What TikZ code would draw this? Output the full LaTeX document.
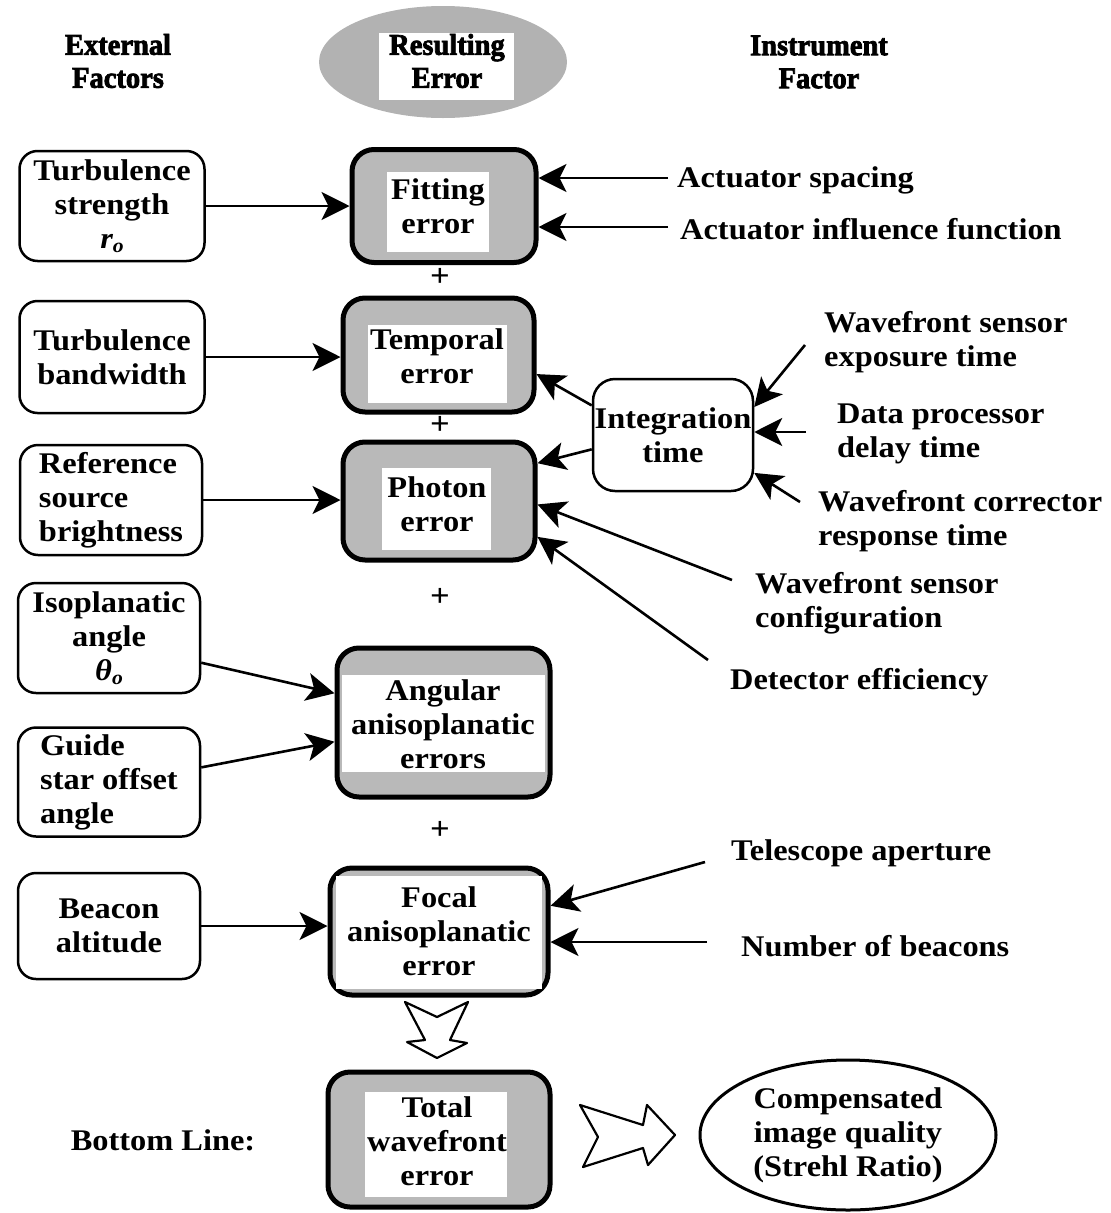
\documentclass[tikz,border=0pt]{standalone}
\usepackage{fontspec}
\setmainfont{Liberation Serif}[FakeStretch=1.08]
\newfontfamily\hdrfont{Liberation Serif}[FakeStretch=0.95,FakeBold=2.5]
\usetikzlibrary{arrows.meta,shapes.geometric}
\begin{document}
\begin{tikzpicture}[x=1pt,y=-1pt,
  every node/.style={font=\fontsize{30}{34}\selectfont\bfseries, inner sep=0pt},
  lbox/.style={draw, line width=2.5pt, rounded corners=18pt, fill=white, align=center},
  ebox/.style={draw, line width=5pt, rounded corners=22pt, fill=gray!55},
  txt/.style={align=center},
  ltxt/.style={align=left, anchor=west},
  hdr/.style={align=center, font=\hdrfont\fontsize{30}{33}\selectfont\bfseries},
  arr/.style={line width=2.6pt, -{Stealth[length=28pt,width=28pt,inset=7pt]}},
  hollow/.style={draw, line width=2.2pt, fill=white, line join=round},
  plus/.style={font=\fontsize{32}{32}\selectfont\bfseries},
]
\useasboundingbox (0,0) rectangle (1111,1213);

% header
\node[hdr] (hExt) at (118,61) {External\\Factors};
\node[ellipse, fill=gray!60, minimum width=248pt, minimum height=112pt] (hdrE) at (443,62) {};
\fill[white] (379,33) rectangle (514,100);
\node[hdr] (hRes) at (447,61) {Resulting\\Error};
\node[hdr] (hIns) at (819,62) {Instrument\\Factor};

% left column
\node[lbox, minimum width=185pt, minimum height=110pt] (b1) at (112,206)
  {Turbulence\\strength\\{\itshape r\raisebox{-4pt}{\fontsize{20}{20}\selectfont o}}};
\node[lbox, minimum width=185pt, minimum height=112pt] (b2) at (112,357) {Turbulence\\bandwidth};
\node[lbox, align=left, minimum width=182pt, minimum height=110pt] (b3) at (111,500) {Reference\\source\\brightness};
\node[lbox, minimum width=182pt, minimum height=110pt] (b4) at (109,638)
  {Isoplanatic\\angle\\{\itshape θ\raisebox{-4pt}{\fontsize{20}{20}\selectfont o}}};
\node[lbox, align=left, minimum width=182pt, minimum height=109pt] (b5) at (109,782) {Guide\\star offset\\angle};
\node[lbox, minimum width=182pt, minimum height=106pt] (b6) at (109,926) {Beacon\\altitude};

% central error boxes
\node[ebox, minimum width=184pt, minimum height=113pt] (fit) at (444,206) {};
\fill[white] (387,172) rectangle (489,252);
\node[txt] (fitT) at (438,206) {Fitting\\error};

\node[ebox, minimum width=191pt, minimum height=114pt] (temp) at (438.5,355) {};
\fill[white] (368,325) rectangle (507,403);
\node[txt] (tempT) at (437,356) {Temporal\\error};

\node[ebox, minimum width=192pt, minimum height=118pt] (phot) at (439,501) {};
\fill[white] (382,468) rectangle (491,550);
\node[txt] (photT) at (437,504) {Photon\\error};

\node[ebox, minimum width=213pt, minimum height=149pt] (ang) at (443.5,722.5) {};
\fill[white] (342,675) rectangle (545,772);
\node[txt] (angT) at (443,724) {Angular\\anisoplanatic\\errors};

\node[ebox, minimum width=218pt, minimum height=127pt] (foc) at (439,931.5) {};
\fill[white] (336,876) rectangle (542,989);
\node[txt] (focT) at (439,931) {Focal\\anisoplanatic\\error};

\node[ebox, minimum width=222pt, minimum height=135pt] (tot) at (439,1139.5) {};
\fill[white] (365,1092) rectangle (507,1197);
\node[txt] (totT) at (437,1141) {Total\\wavefront\\error};

% plus signs
\node[plus] (p1) at (440,277) {+};
\node[plus] (p2) at (440,425) {+};
\node[plus] (p3) at (440,597) {+};
\node[plus] (p4) at (440,830) {+};

% integration time
\node[lbox, rounded corners=22pt, minimum width=160pt, minimum height=112pt] (integ) at (673,435) {Integration\\time};

% right labels
\node[ltxt] (act1) at (677,180) {Actuator spacing};
\node[ltxt] (act2) at (680,229) {Actuator influence function};
\node[ltxt] (wse) at (824,342) {Wavefront sensor\\exposure time};
\node[ltxt] (dpd) at (837,434) {Data processor\\delay time};
\node[ltxt] (wcr) at (818,521) {Wavefront corrector\\response time};
\node[ltxt] (wsc) at (755,603) {Wavefront sensor\\configuration};
\node[ltxt] (det) at (730,682) {Detector efficiency};
\node[ltxt] (tel) at (731,853) {Telescope aperture};
\node[ltxt] (nob) at (741,946) {Number of beacons};

% bottom
\node (bl) at (163,1140) {Bottom Line:};
\node[ellipse, draw, line width=3pt, minimum width=296pt, minimum height=150pt, align=center] (comp) at (848,1135)
  {Compensated\\image quality\\(Strehl Ratio)};

% free ends
\coordinate (a1) at (668,178);
\coordinate (a2) at (668,227);
\coordinate (wseA) at (805,345);
\coordinate (dpdA) at (806,432);
\coordinate (wcrA) at (800,502);
\coordinate (wscA) at (732,580);
\coordinate (detA) at (708,660);
\coordinate (telA) at (705,862);
\coordinate (nobA) at (707,942);

% connectors
\draw[arr] (b1.east) -- (b1.east -| fit.west);
\draw[arr] (b2.east) -- (b2.east -| temp.west);
\draw[arr] (b3.east) -- (b3.east -| phot.west);
\draw[arr] (b4.-15) -- (ang.165);
\draw[arr] (b5.9) -- (ang.190);
\draw[arr] (b6.east) -- (b6.east -| foc.west);

\draw[arr] (a1) -- (a1 -| fit.east);
\draw[arr] (a2) -- (a2 -| fit.east);
\draw[arr] (integ.160) -- (temp.-11);
\draw[arr] (integ.190) -- (phot.21);
\draw[arr] (wseA) -- (integ.19);
\draw[arr] (dpdA) -- (dpdA -| integ.east);
\draw[arr] (wcrA) -- (integ.-25);
\draw[arr] (wscA) -- (phot.-2);
\draw[arr] (detA) -- (phot.-20);
\draw[arr] (telA) -- (foc.13);
\draw[arr] (nobA) -- (nobA -| foc.east);

% hollow block arrows
\draw[hollow] (405,1002) -- (437,1017) -- (468,1002) -- (450,1040) -- (467,1043) -- (437,1058) -- (407,1042) -- (425,1040) -- cycle;
\draw[hollow] (580,1105) -- (643,1125) -- (647,1105) -- (675,1135) -- (648,1165) -- (643,1148) -- (583,1167) -- (598,1137) -- cycle;
\end{tikzpicture}
\end{document}
